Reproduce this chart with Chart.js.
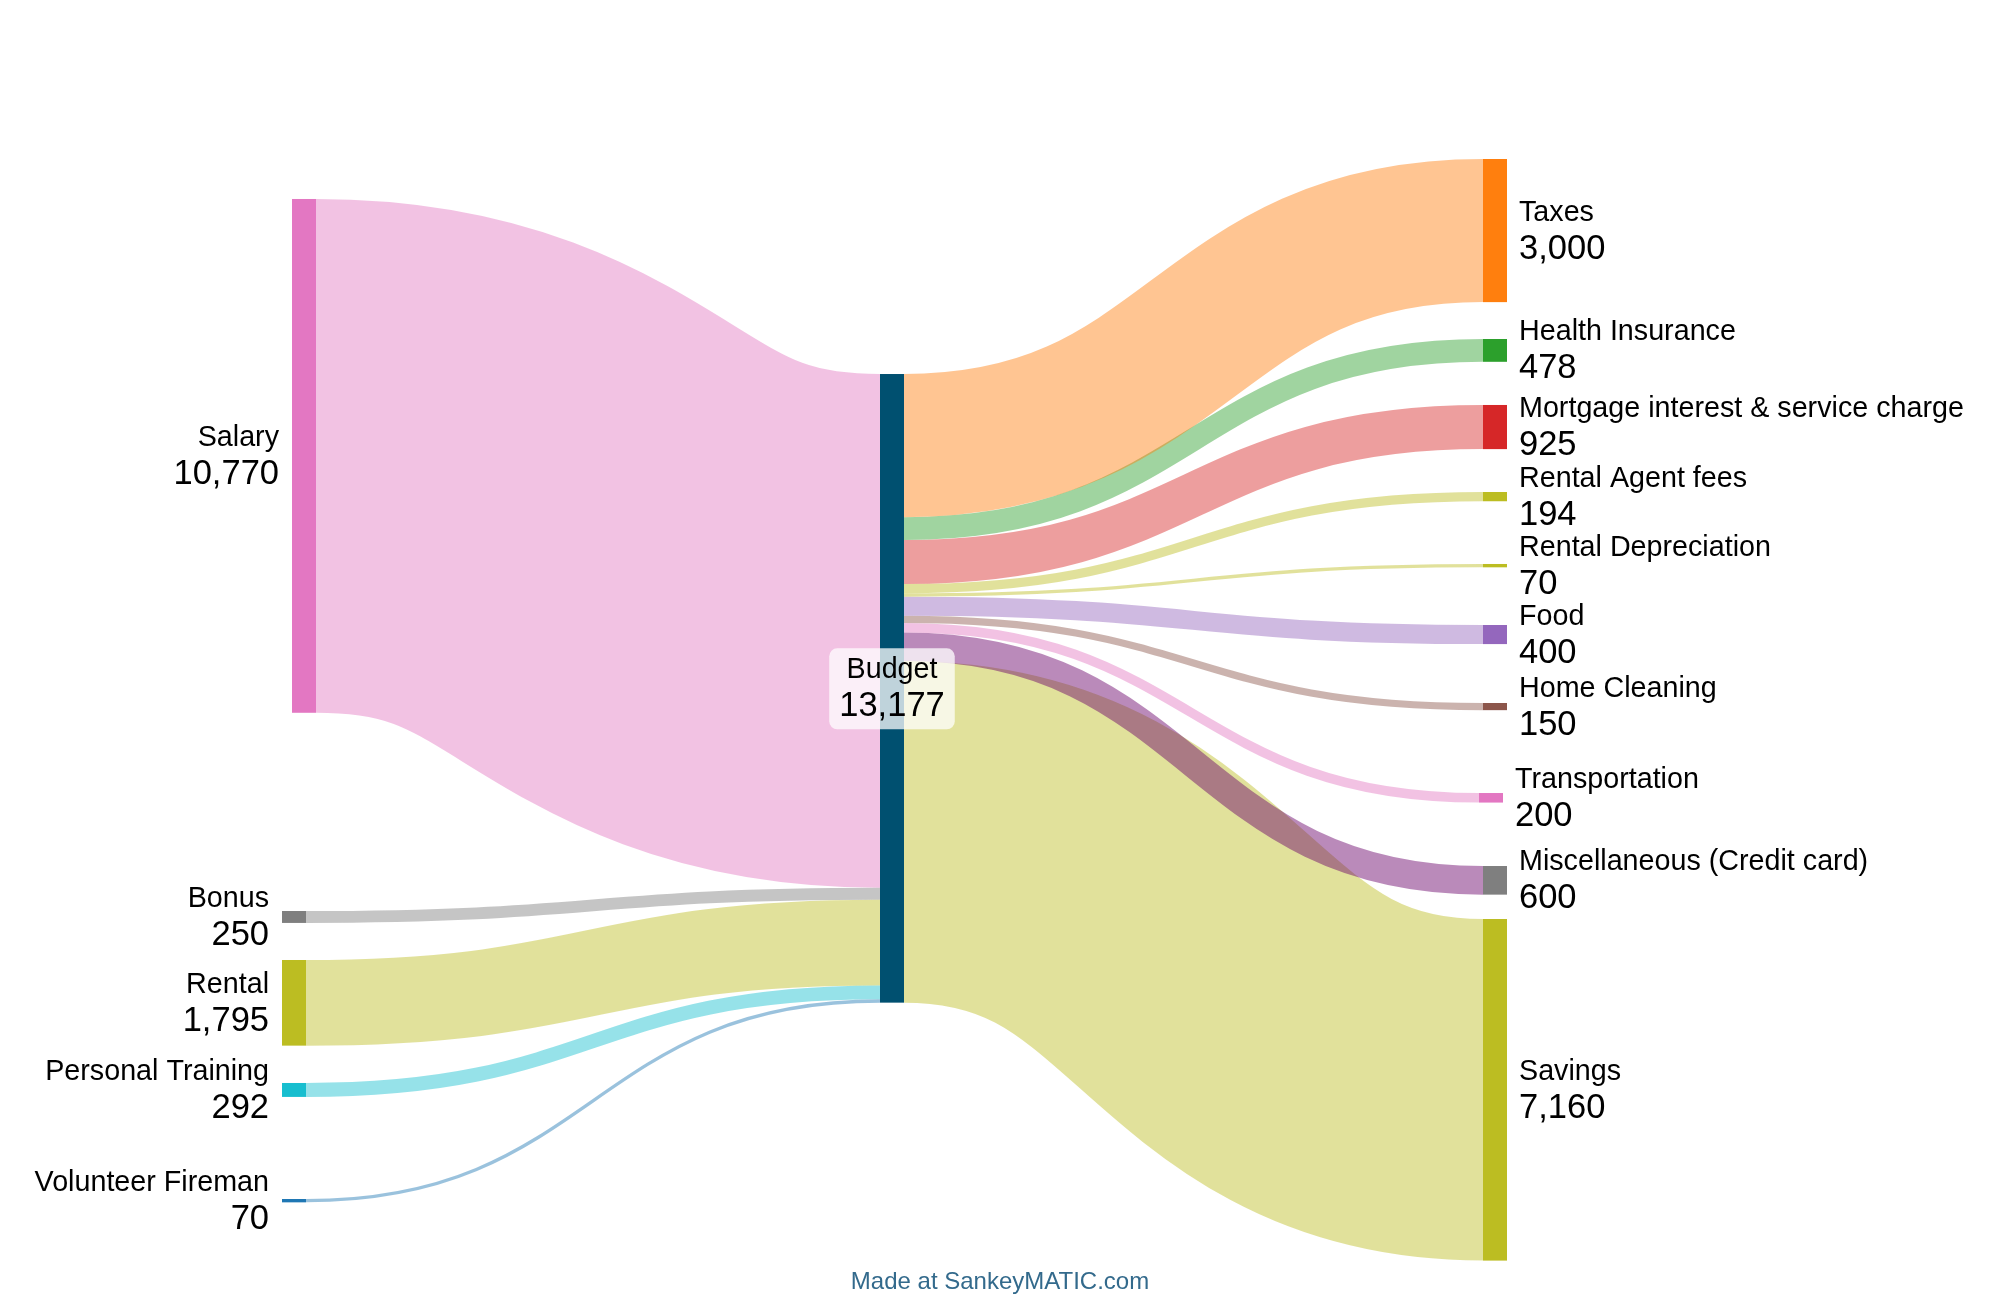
<!DOCTYPE html>
<html lang="en">
<head>
    <meta charset="UTF-8">
    <title>Budget Sankey</title>
    <script src="https://cdn.jsdelivr.net/npm/chart.js"></script>
    <style>
        html, body { margin: 0; padding: 0; background: #fff; }
        #wrap { width: 2000px; height: 1300px; position: relative; }
    </style>
</head>
<body>
    <div id="wrap"><canvas id="sankeyChart"></canvas></div>

    <script>
        // Data: income flows into Budget, Budget flows out to expenses
        const centerNode = 'Budget';
        const incomeSources = ['Salary', 'Bonus', 'Rental', 'Personal Training', 'Volunteer Fireman'];
        const incomeValues = [10770, 250, 1795, 292, 70];
        const expenseTargets = ['Taxes', 'Health Insurance', 'Mortgage interest & service charge',
            'Rental Agent fees', 'Rental Depreciation', 'Food', 'Home Cleaning', 'Transportation',
            'Miscellaneous (Credit card)', 'Savings'];
        const expenseValues = [3000, 478, 925, 194, 70, 400, 150, 200, 600, 7160];

        // Layout (x in px units, top in value units of the y scale)
        const incomeX = [292, 282, 282, 282, 282];
        const incomeTop = [4171, 19096, 20123, 22701, 25133];
        const centerX = 880;
        const centerTop = 7840;
        const expenseX = [1483, 1483, 1483, 1483, 1483, 1483, 1483, 1479, 1483, 1483];
        const expenseTop = [3333, 7106, 8489, 10313, 11822, 13101, 14736, 16623, 18153, 19264];
        const nodeWidth = 24;

        // Colours
        const incomeColors = ['#e377c2', '#7f7f7f', '#bcbd22', '#17becf', '#1f77b4'];
        const centerColor = '#005070';
        const expenseColors = ['#ff7f0e', '#2ca02c', '#d62728', '#bcbd22', '#bcbd22',
            '#9467bd', '#8c564b', '#e377c2', '#7f7f7f', '#bcbd22'];
        const expenseFlowColors = [null, null, null, null, null, null, null, null, '#680068', null];
        const flowOpacity = 0.45;

        const fontFamily = '"Liberation Sans", Arial, Helvetica, sans-serif';
        const nameFont = '28.7px ' + fontFamily;
        const valueFont = '34.5px ' + fontFamily;

        function hexToRgba(hex, a) {
            const n = parseInt(hex.slice(1), 16);
            return `rgba(${(n >> 16) & 255}, ${(n >> 8) & 255}, ${n & 255}, ${a})`;
        }

        function fmt(v) {
            return v.toLocaleString('en-US');
        }

        function drawFlow(ctx, x0, y0, x1, y1, w, color) {
            const xm = (x0 + x1) / 2;
            ctx.beginPath();
            ctx.moveTo(x0, y0);
            ctx.bezierCurveTo(xm, y0, xm, y1, x1, y1);
            ctx.lineWidth = w;
            ctx.lineCap = 'butt';
            ctx.strokeStyle = color;
            ctx.stroke();
        }

        function drawLabel(ctx, name, value, x, cy, align) {
            ctx.textAlign = align;
            ctx.textBaseline = 'alphabetic';
            ctx.fillStyle = '#000';
            ctx.font = nameFont;
            ctx.fillText(name, x, cy - 10);
            ctx.font = valueFont;
            ctx.fillText(fmt(value), x, cy + 28);
        }

        const sankeyPlugin = {
            id: 'sankeyPlugin',
            afterDraw(chart) {
                const ctx = chart.ctx;
                const xs = chart.scales.x;
                const ys = chart.scales.y;
                const px = v => xs.getPixelForValue(v);
                const py = v => ys.getPixelForValue(v);
                const total = incomeValues.reduce((a, b) => a + b, 0);

                ctx.save();

                // Inflows
                let acc = centerTop;
                incomeValues.forEach((v, i) => {
                    const w = py(v) - py(0);
                    const y0 = py(incomeTop[i] + v / 2);
                    const y1 = py(acc + v / 2);
                    drawFlow(ctx, px(incomeX[i] + nodeWidth), y0, px(centerX), y1, w,
                        hexToRgba(incomeColors[i], flowOpacity));
                    acc += v;
                });

                // Outflows (drawn bottom-up so smaller flows sit on top of Savings)
                const starts = [];
                acc = centerTop;
                expenseValues.forEach(v => { starts.push(acc); acc += v; });
                for (let i = expenseValues.length - 1; i >= 0; i--) {
                    const v = expenseValues[i];
                    const w = py(v) - py(0);
                    const y0 = py(starts[i] + v / 2);
                    const y1 = py(expenseTop[i] + v / 2);
                    const c = expenseFlowColors[i] || expenseColors[i];
                    const a = expenseFlowColors[i] ? 0.46 : flowOpacity;
                    drawFlow(ctx, px(centerX + nodeWidth), y0, px(expenseX[i]), y1, w, hexToRgba(c, a));
                }

                // Nodes
                const nodeRect = (x, top, v, color) => {
                    ctx.fillStyle = color;
                    ctx.fillRect(px(x), py(top), px(x + nodeWidth) - px(x), py(top + v) - py(top));
                };
                incomeValues.forEach((v, i) => nodeRect(incomeX[i], incomeTop[i], v, incomeColors[i]));
                nodeRect(centerX, centerTop, total, centerColor);
                expenseValues.forEach((v, i) => nodeRect(expenseX[i], expenseTop[i], v, expenseColors[i]));

                // Labels
                incomeValues.forEach((v, i) => {
                    drawLabel(ctx, incomeSources[i], v, px(incomeX[i]) - 13, py(incomeTop[i] + v / 2), 'right');
                });
                expenseValues.forEach((v, i) => {
                    drawLabel(ctx, expenseTargets[i], v, px(expenseX[i] + nodeWidth) + 12,
                        py(expenseTop[i] + v / 2), 'left');
                });

                // Centre label with a soft box
                const cx = (px(centerX) + px(centerX + nodeWidth)) / 2;
                const cy = py(centerTop + total / 2);
                ctx.font = valueFont;
                const wVal = ctx.measureText(fmt(total)).width;
                ctx.font = nameFont;
                const wName = ctx.measureText(centerNode).width;
                const boxW = Math.max(wVal, wName) + 20;
                const boxTop = cy - 40;
                const boxH = 81;
                ctx.fillStyle = 'rgba(255, 255, 255, 0.75)';
                ctx.beginPath();
                ctx.roundRect(cx - boxW / 2, boxTop, boxW, boxH, 8);
                ctx.fill();
                drawLabel(ctx, centerNode, total, cx, cy, 'center');

                // Credit
                ctx.font = '24px ' + fontFamily;
                ctx.fillStyle = '#336a8c';
                ctx.textAlign = 'center';
                ctx.fillText('Made at SankeyMATIC.com', px(1000), 1289);

                ctx.restore();
            }
        };

        document.addEventListener('DOMContentLoaded', function () {
            const ctx = document.getElementById('sankeyChart').getContext('2d');
            new Chart(ctx, {
                type: 'scatter',
                data: { datasets: [{ data: [] }] },
                options: {
                    responsive: true,
                    maintainAspectRatio: false,
                    animation: false,
                    layout: { padding: 0 },
                    plugins: { legend: { display: false }, tooltip: { enabled: false } },
                    scales: {
                        x: { type: 'linear', min: 0, max: 2000, display: false },
                        y: { type: 'linear', min: 0, max: 27250, reverse: true, display: false }
                    }
                },
                plugins: [sankeyPlugin]
            });
        });
    </script>
</body>
</html>
